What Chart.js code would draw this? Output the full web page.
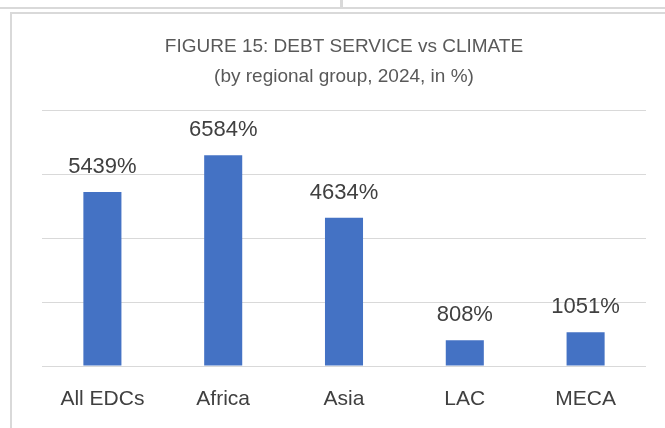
<!DOCTYPE html>
<html lang="en">
<head>
    <meta charset="UTF-8">
    <title>Debt service vs climate</title>
    <script src="https://cdn.jsdelivr.net/npm/chart.js"></script>
    <style>
        html, body { margin: 0; padding: 0; background: #fff; }
        body { width: 665px; height: 428px; position: relative; overflow: hidden; }
        .line { position: absolute; background: #d9d9d9; }
        #wrap { position: absolute; left: 0; top: 0; width: 665px; height: 428px; }
    </style>
</head>
<body>
    <!-- leftover page frame lines around the chart -->
    <div class="line" style="left:0; top:7px; width:665px; height:2px;"></div>
    <div class="line" style="left:340px; top:0; width:3px; height:8px;"></div>
    <div class="line" style="left:10px; top:12px; width:655px; height:2px;"></div>
    <div class="line" style="left:10px; top:12px; width:2px; height:416px;"></div>

    <div id="wrap"><canvas id="chart" width="665" height="428"></canvas></div>

    <script>
        const regions = ['All EDCs', 'Africa', 'Asia', 'LAC', 'MECA'];
        const debtVsClimate = [5439, 6584, 4634, 808, 1051];
        const titleLines = ['FIGURE 15: DEBT SERVICE vs CLIMATE', '(by regional group, 2024, in %)'];

        // value labels above each bar
        const barLabels = {
            id: 'barLabels',
            afterDatasetsDraw(chart) {
                const ctx = chart.ctx;
                const meta = chart.getDatasetMeta(0);
                ctx.save();
                ctx.font = '22px "Liberation Sans", sans-serif';
                ctx.fillStyle = '#404040';
                ctx.textAlign = 'center';
                ctx.textBaseline = 'alphabetic';
                meta.data.forEach((bar, i) => {
                    ctx.fillText(debtVsClimate[i] + '%', bar.x, bar.y - 19);
                });
                ctx.restore();
            }
        };

        new Chart(document.getElementById('chart'), {
            type: 'bar',
            data: {
                labels: regions,
                datasets: [{
                    data: debtVsClimate,
                    backgroundColor: '#4472C4',
                    borderWidth: 0,
                    barPercentage: 0.315,
                    categoryPercentage: 1
                }]
            },
            options: {
                responsive: false,
                animation: false,
                layout: { padding: { left: 42, right: 19, top: 0, bottom: 0 } },
                plugins: {
                    legend: { display: false },
                    tooltip: { enabled: false },
                    title: {
                        display: true,
                        text: titleLines,
                        color: '#595959',
                        font: { family: '"Liberation Sans", sans-serif', size: 19, weight: 'normal', lineHeight: 1.58 },
                        padding: { top: 32, bottom: 18 }
                    }
                },
                scales: {
                    x: {
                        grid: { display: false, drawTicks: false },
                        border: { display: false },
                        ticks: {
                            color: '#404040',
                            padding: 21,
                            font: { family: '"Liberation Sans", sans-serif', size: 21 }
                        },
                        afterFit(scale) { scale.height = 62; }
                    },
                    y: {
                        min: 0,
                        max: 8000,
                        ticks: { display: false, stepSize: 2000 },
                        grid: { color: '#d9d9d9', lineWidth: 1, drawTicks: false },
                        border: { display: false }
                    }
                }
            },
            plugins: [barLabels]
        });
    </script>
</body>
</html>
